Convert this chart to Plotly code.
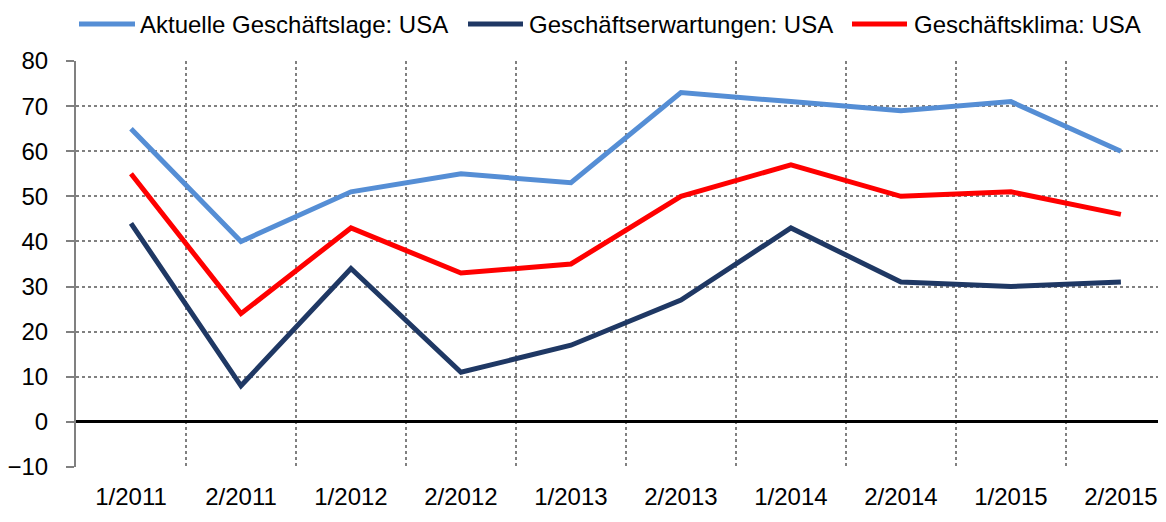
import plotly.graph_objects as go

categories = ["1/2011", "2/2011", "1/2012", "2/2012", "1/2013", "2/2013", "1/2014", "2/2014", "1/2015", "2/2015"]
lage = [65, 40, 51, 55, 53, 73, 71, 69, 71, 60]
erwartungen = [44, 8, 34, 11, 17, 27, 43, 31, 30, 31]
klima = [55, 24, 43, 33, 35, 50, 57, 50, 51, 46]

series_names = ["Aktuelle Geschäftslage: USA", "Geschäftserwartungen: USA", "Geschäftsklima: USA"]
series_colors = ["#558ED5", "#1F3864", "#FF0000"]

FONT = "Liberation Sans, Arial, sans-serif"

# page offset (body margin) compensation
W, H = 1166, 522
L, T, R, B = 68, 53, 8, 63
PW, PH = W - L - R, H - T - B


def px_x(fx):
    return (fx - L) / PW


def px_y(fy):
    return (H - B - fy) / PH


fig = go.Figure()
for name, vals, col in zip(series_names, [lage, erwartungen, klima], series_colors):
    fig.add_trace(go.Scatter(x=categories, y=vals, mode="lines", name=name,
                             line=dict(color=col, width=5), showlegend=False))

# manual legend (screen px minus 8 offset)
legend_pos = [(71, 127, 130), (460, 515, 519), (844, 899, 904)]
leg_y = 16
for (x0, x1, xt), name, col in zip(legend_pos, series_names, series_colors):
    fig.add_shape(type="line", xref="paper", yref="paper",
                  x0=px_x(x0), x1=px_x(x1), y0=px_y(leg_y), y1=px_y(leg_y),
                  line=dict(color=col, width=5))
    fig.add_annotation(xref="paper", yref="paper", x=px_x(xt), y=px_y(leg_y),
                       text=name, showarrow=False, xanchor="left", yanchor="middle",
                       font=dict(size=24, family=FONT, color="black"))

fig.update_layout(
    width=W, height=H,
    margin=dict(l=L, r=R, t=T, b=B),
    plot_bgcolor="white", paper_bgcolor="white",
    font=dict(family=FONT, color="black"),
    showlegend=False,
)
fig.update_xaxes(
    type="category", range=[-0.5, 9.41], tickson="boundaries",
    showgrid=True, gridcolor="#808080", griddash="dot", gridwidth=1.5,
    ticks="", showline=False, tickfont=dict(size=24), ticklabelstandoff=13,
    automargin=False,
)
fig.update_yaxes(
    range=[-10, 80], dtick=10, tick0=0,
    showgrid=True, gridcolor="#808080", griddash="dot", gridwidth=1.5,
    showline=True, linecolor="#808080", linewidth=2,
    ticks="outside", ticklen=8, tickcolor="#808080", tickwidth=2,
    tickfont=dict(size=24), ticklabelstandoff=13, automargin=False,
    zeroline=True, zerolinecolor="black", zerolinewidth=2.5,
)
fig.write_html("out.html")
